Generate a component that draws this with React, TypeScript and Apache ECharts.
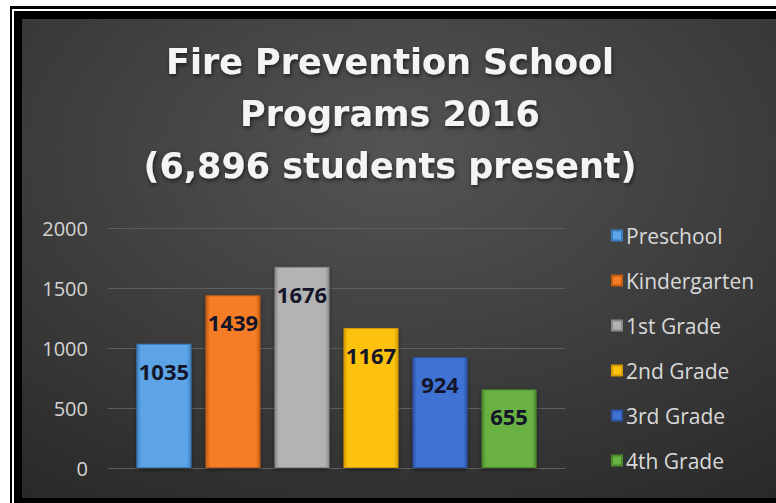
import React, { useEffect, useRef } from "react";
import * as echarts from "echarts";

const titleLines = ["Fire Prevention School", "Programs 2016", "(6,896 students present)"];
const grades = ["Preschool", "Kindergarten", "1st Grade", "2nd Grade", "3rd Grade", "4th Grade"];
const students = [1035, 1439, 1676, 1167, 924, 655];
const baseColors = ["#5ba4e6", "#f47d25", "#b3b3b3", "#fdc20c", "#3f72d3", "#68b143"];
const edgeColors = ["#3a7fbf", "#c45c12", "#8a8a8a", "#d49c00", "#2a55a8", "#4c8a2c"];
const yTicks = { min: 0, max: 2000, interval: 500 };

export default function App() {
  const ref = useRef<HTMLDivElement>(null);
  useEffect(() => {
    if (!ref.current) return;
    const chart = echarts.init(ref.current, null, { renderer: "svg" });
    const series = grades.map((name, i) => ({
      name,
      type: "bar",
      data: [students[i]],
      barWidth: 55,
      barGap: "25.5%",
      itemStyle: {
        color: {
          type: "linear",
          x: 0,
          y: 0,
          x2: 1,
          y2: 0,
          colorStops: [
            { offset: 0, color: edgeColors[i] },
            { offset: 0.07, color: baseColors[i] },
            { offset: 0.93, color: baseColors[i] },
            { offset: 1, color: edgeColors[i] },
          ],
        },
        borderColor: edgeColors[i],
        borderWidth: 1,
        shadowColor: "rgba(0,0,0,0.45)",
        shadowBlur: 4,
        shadowOffsetY: 2,
      },
      label: {
        show: true,
        position: "insideTop",
        distance: 16,
        color: "#15152a",
        fontFamily: "Open Sans",
        fontWeight: "bold",
        fontSize: 22,
      },
    }));
    chart.setOption({
      animation: false,
      backgroundColor: {
        type: "radial",
        x: 0.5,
        y: 0.28,
        r: 0.95,
        colorStops: [
          { offset: 0, color: "#545454" },
          { offset: 1, color: "#252525" },
        ],
      },
      title: {
        text: titleLines.join("\n"),
        left: 368,
        top: 17,
        padding: 0,
        textAlign: "center",
        textStyle: {
          color: "#f4f4f4",
          fontFamily: "DejaVu Sans",
          fontWeight: "bold",
          fontSize: 35,
          lineHeight: 52,
          textShadowColor: "rgba(0,0,0,0.6)",
          textShadowBlur: 4,
          textShadowOffsetX: 1,
          textShadowOffsetY: 2,
        },
      },
      legend: {
        orient: "vertical",
        left: 584,
        top: 201,
        icon: "rect",
        itemWidth: 10,
        itemHeight: 10,
        itemGap: 24,
        data: grades,
        textStyle: {
          color: "#d9d9d9",
          fontFamily: "Open Sans",
          fontSize: 21,
          lineHeight: 21,
          padding: [0, 0, 0, -1],
        },
      },
      grid: { left: 86, right: 211, top: 209, bottom: 30 },
      xAxis: {
        type: "category",
        data: [""],
        axisLabel: { show: false },
        axisTick: { show: false },
        axisLine: { lineStyle: { color: "#5e5e5e", width: 1 } },
      },
      yAxis: {
        type: "value",
        min: yTicks.min,
        max: yTicks.max,
        interval: yTicks.interval,
        axisLine: { show: false },
        axisTick: { show: false },
        axisLabel: {
          color: "#d4d4d4",
          fontFamily: "Open Sans",
          fontSize: 20,
          margin: 20,
          formatter: (v: number) => String(v),
        },
        splitLine: { lineStyle: { color: "#5e5e5e", width: 1 } },
      },
      series,
    });
    return () => chart.dispose();
  }, []);

  return (
    <div style={{ position: "fixed", left: 0, top: 0, width: 776, height: 503, background: "#ffffff", overflow: "hidden" }}>
      <div style={{ position: "absolute", left: 10, top: 6, width: 800, height: 600, background: "#000" }} />
      <div style={{ position: "absolute", left: 12, top: 9, width: 800, height: 600, background: "#fff" }} />
      <div style={{ position: "absolute", left: 14, top: 11, width: 800, height: 600, background: "#000" }} />
      <div ref={ref} style={{ position: "absolute", left: 22, top: 19, width: 754, height: 479 }} />
    </div>
  );
}
